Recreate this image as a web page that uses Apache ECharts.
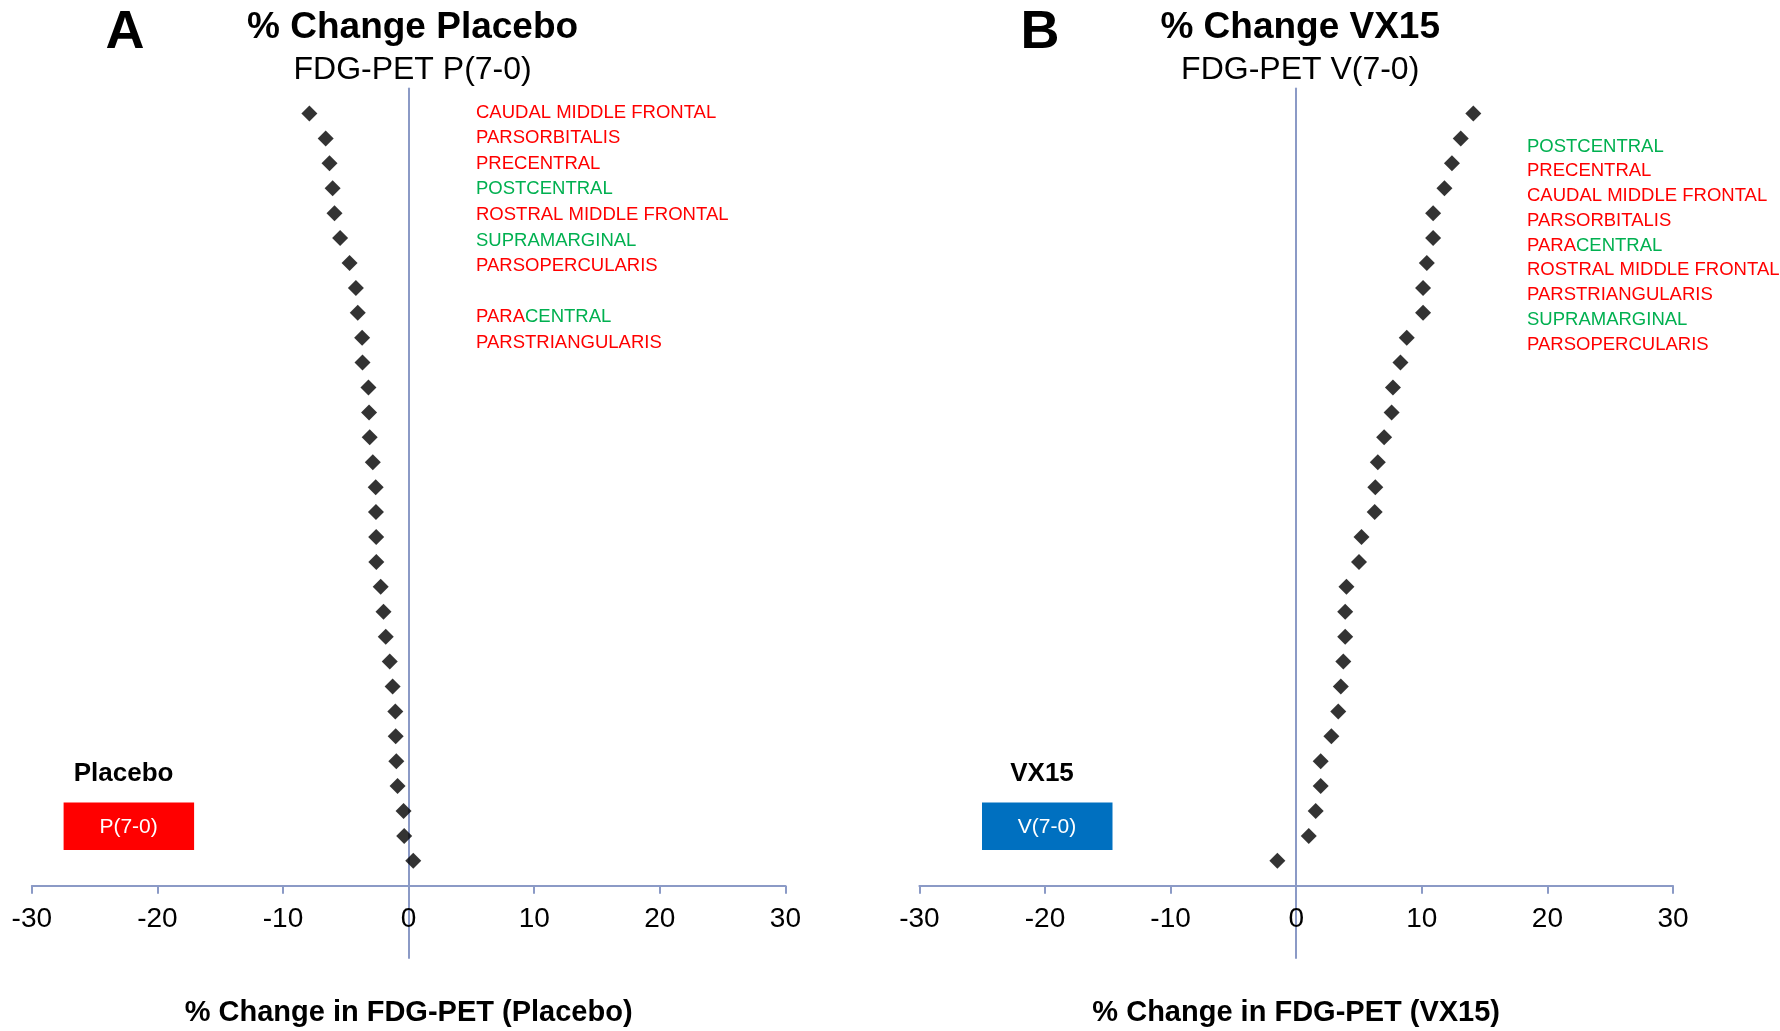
<!DOCTYPE html>
<html>
<head>
<meta charset="UTF-8">
<title>% Change FDG-PET</title>
<script src="https://cdn.jsdelivr.net/npm/echarts@6/dist/echarts.min.js"></script>
<style>
  html, body { margin: 0; padding: 0; background: #fff; }
  #chart { width: 1780px; height: 1031px; }
</style>
</head>
<body>
<div id="chart"></div>
<script>
// % change per region, top row first
const placeboChange = [
  -7.9, -6.6, -6.3, -6.05, -5.9, -5.45, -4.7, -4.2, -4.05, -3.7, -3.67,
  -3.2, -3.15, -3.1, -2.85, -2.62, -2.6, -2.58, -2.57, -2.22, -2.0,
  -1.82, -1.5, -1.27, -1.06, -1.03, -0.98, -0.88, -0.4, -0.35, 0.37
];
const vx15Change = [
  14.1, 13.1, 12.4, 11.8, 10.9, 10.9, 10.4, 10.1, 10.1, 8.8, 8.3,
  7.7, 7.6, 7.0, 6.5, 6.3, 6.25, 5.2, 5.0, 4.0, 3.9,
  3.9, 3.75, 3.55, 3.35, 2.8, 1.95, 1.95, 1.55, 1.0, -1.5
];

// region names next to the top rows ({r|..} red, {g|..} green)
const placeboRegions = [
  '{r|CAUDAL MIDDLE FRONTAL}',
  '{r|PARSORBITALIS}',
  '{r|PRECENTRAL}',
  '{g|POSTCENTRAL}',
  '{r|ROSTRAL MIDDLE FRONTAL}',
  '{g|SUPRAMARGINAL}',
  '{r|PARSOPERCULARIS}',
  '',
  '{r|PARA}{g|CENTRAL}',
  '{r|PARSTRIANGULARIS}'
];
const vx15Regions = [
  '{g|POSTCENTRAL}',
  '{r|PRECENTRAL}',
  '{r|CAUDAL MIDDLE FRONTAL}',
  '{r|PARSORBITALIS}',
  '{r|PARA}{g|CENTRAL}',
  '{r|ROSTRAL MIDDLE FRONTAL}',
  '{r|PARSTRIANGULARIS}',
  '{g|SUPRAMARGINAL}',
  '{r|PARSOPERCULARIS}'
];

const panels = [
  { letter: 'A', title: '% Change Placebo', subtitle: 'FDG-PET P(7-0)', group: 'Placebo',
    box: 'P(7-0)', boxColor: '#FF0000', axisName: '% Change in FDG-PET (Placebo)' },
  { letter: 'B', title: '% Change VX15', subtitle: 'FDG-PET V(7-0)', group: 'VX15',
    box: 'V(7-0)', boxColor: '#0070C0', axisName: '% Change in FDG-PET (VX15)' }
];

const FONT = '"Liberation Sans", Arial, Helvetica, sans-serif';
const AXIS_COLOR = '#8B9AC6';
const RED = '#FF0000';
const GREEN = '#00B050';

const chart = echarts.init(document.getElementById('chart'));

const gridLeft = [31.8, 919.4];
const gridWidth = 753.6;
const zeroX = gridLeft.map(l => l + gridWidth / 2);

function toPoints(values) {
  const n = values.length;
  return values.map((v, i) => [v, n - i]);
}

function txt(x, y, text, size, weight, color, align) {
  return {
    type: 'text',
    silent: true,
    style: {
      x: x, y: y, text: text,
      fontFamily: FONT, fontSize: size, fontWeight: weight || 'normal',
      fill: color || '#000',
      align: align || 'center', verticalAlign: 'middle',
      textAlign: align || 'center', textVerticalAlign: 'middle'
    }
  };
}

const rich = {
  r: { fill: RED, fontSize: 18.5, fontFamily: FONT },
  g: { fill: GREEN, fontSize: 18.5, fontFamily: FONT }
};

function regionLabels(list, x, y0, step) {
  const out = [];
  list.forEach((s, i) => {
    if (!s) return;
    out.push({
      type: 'text',
      silent: true,
      style: {
        x: x, y: y0 + i * step, text: s, rich: rich,
        fontFamily: FONT, fontSize: 18.5, fill: RED,
        align: 'left', verticalAlign: 'middle',
        textAlign: 'left', textVerticalAlign: 'middle'
      }
    });
  });
  return out;
}

const graphics = [];
panels.forEach((p, k) => {
  const cx = zeroX[k];
  graphics.push(txt(k === 0 ? 125 : 1040, 33, p.letter, 54, 'bold'));
  graphics.push(txt(cx + 4, 28, p.title, 37, 'bold'));
  graphics.push(txt(cx + 4, 70, p.subtitle, 32, 'normal'));
  const bx = k === 0 ? 63.6 : 982;
  graphics.push(txt(bx + 60, 774, p.group, 26, 'bold'));
  graphics.push({
    type: 'rect', silent: true,
    shape: { x: bx, y: 802.5, width: 130.5, height: 47.5 },
    style: { fill: p.boxColor }
  });
  graphics.push(txt(bx + 65, 827, p.box, 21, 'normal', '#fff'));
});
graphics.push(...regionLabels(placeboRegions, 476, 112.5, 25.6));
graphics.push(...regionLabels(vx15Regions, 1527, 146.5, 24.75));

const axisLineStyle = { color: AXIS_COLOR, width: 2 };

chart.setOption({
  backgroundColor: '#fff',
  animation: false,
  grid: gridLeft.map(l => ({
    left: l, top: 88.6, width: gridWidth, height: 869.4,
    containLabel: false, outerBoundsMode: 'none'
  })),
  xAxis: panels.map((p, k) => ({
    gridIndex: k,
    type: 'value',
    min: -30, max: 30, interval: 10,
    axisLine: { show: true, onZero: true, lineStyle: axisLineStyle },
    axisTick: { show: true, inside: false, length: 8, lineStyle: axisLineStyle },
    // labels sit from the grid's lower edge, pulled up to the crossing line
    axisLabel: { fontSize: 28, color: '#000', fontFamily: FONT, margin: -53 },
    splitLine: { show: false },
    name: p.axisName,
    nameLocation: 'middle',
    nameGap: 40,
    nameTextStyle: { fontSize: 29, fontWeight: 'bold', color: '#000', fontFamily: FONT }
  })),
  yAxis: panels.map((p, k) => ({
    gridIndex: k,
    type: 'value',
    min: -2.9, max: 32,
    axisLine: { show: true, onZero: true, lineStyle: axisLineStyle },
    axisTick: { show: false },
    axisLabel: { show: false },
    splitLine: { show: false }
  })),
  series: [placeboChange, vx15Change].map((vals, k) => ({
    type: 'scatter',
    xAxisIndex: k,
    yAxisIndex: k,
    data: toPoints(vals),
    symbol: 'diamond',
    symbolSize: 16,
    itemStyle: { color: '#000' },
    silent: true
  })),
  graphic: graphics
});
</script>
</body>
</html>
